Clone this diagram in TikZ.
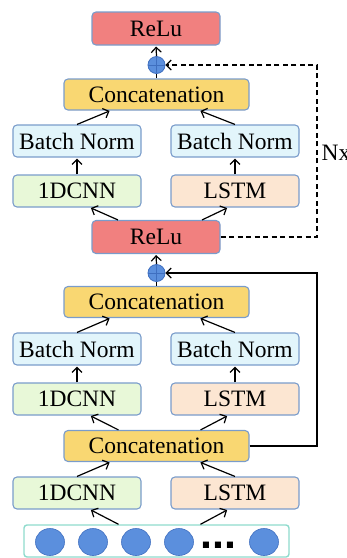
\documentclass[tikz,border=0pt]{standalone}
\usepackage{fontspec}
\setmainfont{Liberation Serif}
\setsansfont{Liberation Sans}
\usetikzlibrary{arrows.meta,calc,shapes.geometric}

\definecolor{edgeblue}{HTML}{7A9CCB}
\definecolor{reluRed}{HTML}{F1807F}
\definecolor{catGold}{HTML}{F9D772}
\definecolor{bnCyan}{HTML}{E2F5FB}
\definecolor{cnnGreen}{HTML}{E8F8D8}
\definecolor{lstmPeach}{HTML}{FCE6D2}
\definecolor{addBlue}{HTML}{5B8FDD}
\definecolor{addEdge}{HTML}{3F6FC0}
\definecolor{inTeal}{HTML}{8FDBCD}

\begin{document}
\begin{tikzpicture}[
      x=1pt, y=-1pt,
      block/.style={rectangle, rounded corners=4pt, draw=edgeblue, line width=1.1pt,
        minimum width=128pt, minimum height=32pt, inner sep=0pt,
        font=\fontsize{23.5}{28}\selectfont},
      relu/.style={block, fill=reluRed, minimum height=33pt},
      concat/.style={block, fill=catGold, minimum width=185pt, minimum height=31pt},
      bnorm/.style={block, fill=bnCyan},
      cnn/.style={block, fill=cnnGreen},
      lstm/.style={block, fill=lstmPeach},
      addop/.style={circle, draw=addEdge, fill=addBlue, line width=0.8pt,
        minimum size=17pt, inner sep=0pt,
        path picture={\draw[addEdge, line width=0.8pt]
          (path picture bounding box.north) -- (path picture bounding box.south)
          (path picture bounding box.west) -- (path picture bounding box.east);}},
      unit/.style={ellipse, draw=addEdge, fill=addBlue, line width=0.6pt,
        minimum width=29pt, minimum height=27pt, inner sep=0pt},
      >={Straight Barb[length=5pt,width=10pt]}, line width=1.2pt
  ]
  \useasboundingbox (0,0) rectangle (347,558);

  % Input sequence
  \node[rectangle, rounded corners=3pt, draw=inTeal, line width=1.4pt, fill=white,
        minimum width=265pt, minimum height=32pt] (inp) at (156.5,541) {};
  \foreach \i/\xx in {1/50, 2/93, 3/136, 4/179, 5/264}
    \node[unit] (u\i) at (\xx,542) {};
  \node[anchor=base west, inner sep=0pt, font=\fontsize{43}{43}\sffamily\bfseries] (dots) at (200,548) {...};

  % First block
  \node[cnn] (cnn1) at (77,493) {1DCNN};
  \node[lstm] (lstm1) at (235,493) {LSTM};
  \node[concat] (cat1) at (156.5,446) {Concatenation};

  % Residual block
  \node[cnn] (cnn2) at (77,399) {1DCNN};
  \node[lstm] (lstm2) at (235,399) {LSTM};
  \node[bnorm] (bn2l) at (77,349) {Batch Norm};
  \node[bnorm] (bn2r) at (235,349) {Batch Norm};
  \node[concat] (cat2) at (156.5,302) {Concatenation};
  \node[addop] (add1) at (156.5,273) {};
  \node[relu] (relu1) at (156,237) {ReLu};

  % Repeated block
  \node[cnn] (cnn3) at (77,191) {1DCNN};
  \node[lstm] (lstm3) at (235,191) {LSTM};
  \node[bnorm] (bn3l) at (77,141) {Batch Norm};
  \node[bnorm] (bn3r) at (235,141) {Batch Norm};
  \node[concat] (cat3) at (156.5,94.5) {Concatenation};
  \node[addop] (add2) at (156.5,65) {};
  \node[relu] (relu2) at (156,28.5) {ReLu};

  \coordinate (skipA) at (317,273);
  \coordinate (skipB) at (317,65);
  \node[anchor=west, inner sep=0pt, font=\fontsize{23.5}{28}\selectfont] (nx) at (321,153) {Nx};

  % Arrows
  \draw[->, shorten >=1pt] ($(inp.north)+(-38,0)$) -- ($(cnn1.south)+(13,0)$);
  \draw[->, shorten >=1pt] ($(inp.north)+(44,0)$) -- ($(lstm1.south)+(-7,0)$);
  \draw[->, shorten >=1pt] (cnn1.north) -- ($(cat1.south)+(-46,0)$);
  \draw[->, shorten >=1pt] (lstm1.north) -- ($(cat1.south)+(43,0)$);

  \draw[->, shorten >=1pt] ($(cat1.north)+(-38,0)$) -- ($(cnn2.south)+(13,0)$);
  \draw[->, shorten >=1pt] ($(cat1.north)+(44,0)$) -- ($(lstm2.south)+(-7,0)$);
  \draw[->, shorten >=1pt] (cnn2.north) -- (bn2l.south);
  \draw[->, shorten >=1pt] (lstm2.north) -- (bn2r.south);
  \draw[->, shorten >=1pt] (bn2l.north) -- ($(cat2.south)+(-46,0)$);
  \draw[->, shorten >=1pt] (bn2r.north) -- ($(cat2.south)+(43,0)$);
  \draw (cat2.north) -- (add1.south);
  \draw[->, shorten >=1pt] (add1.north) -- (relu1.south);

  \draw[->, shorten >=1pt] ($(relu1.north)+(-38,0)$) -- ($(cnn3.south)+(13,0)$);
  \draw[->, shorten >=1pt] ($(relu1.north)+(46,0)$) -- ($(lstm3.south)+(-7,0)$);
  \draw[->, shorten >=1pt] (cnn3.north) -- (bn3l.south);
  \draw[->, shorten >=1pt] (lstm3.north) -- (bn3r.south);
  \draw[->, shorten >=1pt] (bn3l.north) -- ($(cat3.south)+(-46,0)$);
  \draw[->, shorten >=1pt] (bn3r.north) -- ($(cat3.south)+(43,0)$);
  \draw (cat3.north) -- (add2.south);
  \draw[->, shorten >=1pt] (add2.north) -- (relu2.south);

  % Skip connections
  \draw[->] (cat1.east) -| (skipA) -- (add1.east);
  \draw[->, dash pattern=on 5pt off 3.5pt] (relu1.east) -| (skipB) -- (add2.east);

  \end{tikzpicture}
\end{document}
